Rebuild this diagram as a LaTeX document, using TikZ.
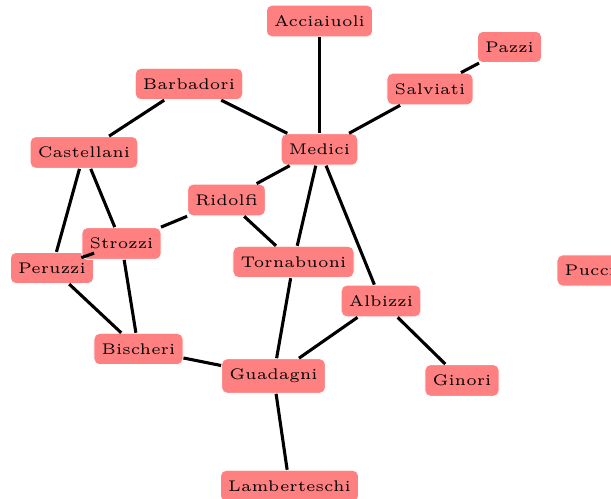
\documentclass[tikz,border=0pt]{standalone}
\usepackage{amsmath,amssymb}
\begin{document}
\begin{tikzpicture}[x=0.324pt,y=-0.324pt,
  family/.style={rectangle,rounded corners=1.8pt,fill=red!50,draw=white,line width=0.3pt,font=\tiny,inner xsep=2.5pt,minimum height=9.6pt},
  tie/.style={black,line width=1pt}]
\useasboundingbox (0,0) rectangle (611,499);
\node[family] (acc) at (319.5,21) {Acciaiuoli};
\node[family] (med) at (319.5,149.5) {Medici};
\node[family] (cas) at (84,152.5) {Castellani};
\node[family] (per) at (52,268) {Peruzzi};
\node[family] (str) at (121.5,243.5) {Strozzi};
\node[family] (bar) at (189,84) {Barbadori};
\node[family] (rid) at (226.5,200) {Ridolfi};
\node[family] (tor) at (293.5,262) {Tornabuoni};
\node[family] (alb) at (381,301) {Albizzi};
\node[family] (sal) at (430,89) {Salviati};
\node[family] (paz) at (509.5,47) {Pazzi};
\node[family] (bis) at (138.5,349) {Bischeri};
\node[family] (gua) at (273.5,376) {Guadagni};
\node[family] (gin) at (462,380.5) {Ginori};
\node[family] (lam) at (289.5,486) {Lamberteschi};
\node[family] (puc) at (590,270.5) {Pucci};
\draw[tie] (acc)--(med);
\draw[tie] (med)--(bar);
\draw[tie] (med)--(rid);
\draw[tie] (med)--(tor);
\draw[tie] (med)--(alb);
\draw[tie] (med)--(sal);
\draw[tie] (cas)--(per);
\draw[tie] (cas)--(str);
\draw[tie] (cas)--(bar);
\draw[tie] (per)--(str);
\draw[tie] (per)--(bis);
\draw[tie] (str)--(rid);
\draw[tie] (str)--(bis);
\draw[tie] (rid)--(tor);
\draw[tie] (tor)--(gua);
\draw[tie] (alb)--(gua);
\draw[tie] (alb)--(gin);
\draw[tie] (sal)--(paz);
\draw[tie] (bis)--(gua);
\draw[tie] (gua)--(lam);
\end{tikzpicture}
\end{document}
